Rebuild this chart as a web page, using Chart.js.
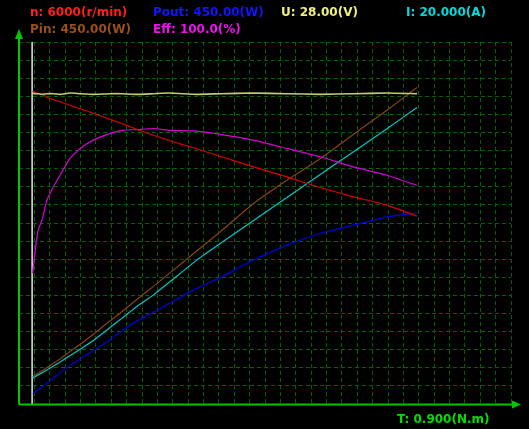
<!DOCTYPE html>
<html>
<head>
<meta charset="utf-8">
<script src="https://cdn.jsdelivr.net/npm/chart.js@4.4.1/dist/chart.umd.min.js"></script>
<style>
  html, body { margin: 0; padding: 0; background: #000; }
  #wrap { width: 529px; height: 429px; }
</style>
</head>
<body>
<div id="wrap"><canvas id="motorCurves" width="529" height="429"></canvas></div>
<script>
// torque T (N.m) of every sample
const torque = [0.025, 0.029, 0.035, 0.042, 0.051, 0.063, 0.075, 0.093, 0.112, 0.136, 0.166, 0.188,
                0.215, 0.246, 0.276, 0.325, 0.368, 0.429, 0.490, 0.551, 0.612, 0.673, 0.728];
// speed n (r/min)
const speed = [5184, 5167, 5147, 5134, 5084, 5043, 5010, 4952, 4894, 4819, 4720, 4649,
               4554, 4455, 4364, 4231, 4107, 3930, 3764, 3589, 3433, 3296, 3113];
// output power Pout (W)
const powerOut = [12.4, 14.7, 17.9, 21.1, 25.8, 32.3, 39.0, 47.8, 55.8, 66.4, 79.7, 90.7,
                  102.7, 114.0, 125.4, 143.7, 157.1, 178.9, 197.5, 212.0, 222.3, 232.6, 237.6];
// voltage U (V)
const voltage = [24.05, 24.0, 24.0, 23.95, 24.0, 24.0, 23.95, 24.05, 24.0, 23.95, 24.0, 24.0,
                 23.95, 24.0, 24.05, 23.95, 24.0, 24.05, 24.0, 23.95, 24.0, 24.05, 24.0];
// current I (A)
const current = [1.42, 1.50, 1.61, 1.72, 1.88, 2.10, 2.32, 2.67, 3.03, 3.51, 4.21, 4.73,
                 5.37, 6.03, 6.75, 7.95, 8.87, 10.14, 11.41, 12.68, 13.94, 15.21, 16.38];
// input power Pin (W)
const powerIn = [33.9, 35.8, 38.5, 41.2, 45.3, 50.7, 56.1, 65.1, 74.3, 86.7, 103.1, 114.6,
                 129.7, 146.2, 163.0, 190.2, 214.0, 249.3, 278.2, 304.9, 335.4, 365.2, 393.4];
// efficiency Eff (%)
const efficiency = [36.1, 41.6, 48.0, 50.8, 56.3, 60.0, 63.2, 67.8, 70.6, 72.9, 74.7, 75.6,
                    75.8, 76.1, 75.6, 75.4, 74.5, 72.9, 70.6, 68.3, 65.5, 63.2, 60.4];

// full scale of each trace, as printed in the header
const fullScale = { n: 6000, Pout: 450, U: 28, I: 20, Pin: 450, Eff: 100, T: 0.9 };
const headerLabels = [
  { text: 'n: 6000(r/min)',  color: '#ff1e1e', x: 30,  row: 0 },
  { text: 'Pout: 450.00(W)', color: '#1414ff', x: 153, row: 0 },
  { text: 'U: 28.00(V)',     color: '#f0f080', x: 281, row: 0 },
  { text: 'I: 20.000(A)',    color: '#00dcdc', x: 406, row: 0 },
  { text: 'Pin: 450.00(W)',  color: '#9a5018', x: 30,  row: 1 },
  { text: 'Eff: 100.0(%)',   color: '#f010f0', x: 153, row: 1 }
];
const axisLabel = 'T: 0.900(N.m)';
// the white cursor line sits on the first measured torque
const cursorT = 0.024;

const xDivisions = 32;
const yDivisions = 20;
const axisGreen = '#00c800';
const gridGreen = '#006400';

function series(values) {
  let pts = [];
  for (let i = 0; i < torque.length; i++) {
    pts.push({ x: torque[i], y: values[i] });
  }
  return pts;
}

function line(label, values, color, axis, width) {
  return {
    label: label,
    data: series(values),
    yAxisID: axis,
    borderColor: color,
    borderWidth: width || 1.2,
    pointRadius: 0,
    tension: 0.15,
    fill: false
  };
}

const frame = {
  id: 'frame',
  beforeDatasetsDraw(chart) {
    let ctx = chart.ctx;
    let area = chart.chartArea;
    let cx = chart.scales.x.getPixelForValue(cursorT);
    ctx.save();
    ctx.strokeStyle = '#e8e8e8';
    ctx.lineWidth = 1.5;
    ctx.beginPath();
    ctx.moveTo(cx, area.top);
    ctx.lineTo(cx, area.bottom);
    ctx.stroke();
    ctx.restore();
  },
  afterDraw(chart) {
    let ctx = chart.ctx;
    let area = chart.chartArea;
    ctx.save();
    // axes with arrow heads
    ctx.strokeStyle = axisGreen;
    ctx.fillStyle = axisGreen;
    ctx.lineWidth = 2;
    ctx.beginPath();
    ctx.moveTo(area.left, area.bottom + 0.5);
    ctx.lineTo(area.left, 37);
    ctx.moveTo(area.left, area.bottom + 0.5);
    ctx.lineTo(area.right + 3, area.bottom + 0.5);
    ctx.stroke();
    ctx.beginPath();
    ctx.moveTo(area.left, 29);
    ctx.lineTo(area.left - 4, 39);
    ctx.lineTo(area.left + 4, 39);
    ctx.closePath();
    ctx.fill();
    ctx.beginPath();
    ctx.moveTo(area.right + 10, area.bottom + 0.5);
    ctx.lineTo(area.right + 1, area.bottom - 3.5);
    ctx.lineTo(area.right + 1, area.bottom + 4.5);
    ctx.closePath();
    ctx.fill();

    // header and axis texts
    ctx.font = "bold 12px 'DejaVu Sans'";
    ctx.textBaseline = 'alphabetic';
    ctx.textAlign = 'left';
    headerLabels.forEach(h => {
      ctx.fillStyle = h.color;
      ctx.fillText(h.text, h.x, h.row === 0 ? 16 : 33);
    });
    ctx.fillStyle = '#00e000';
    ctx.fillText(axisLabel, 397, 423);
    ctx.restore();
  }
};

function hiddenAxis(max) {
  return { type: 'linear', display: false, min: 0, max: max };
}

let ctx = document.getElementById('motorCurves');
let chart = new Chart(ctx, {
  type: 'line',
  data: {
    datasets: [
      line('U', voltage, '#c8c878', 'yU', 1.6),
      line('n', speed, '#e00000', 'yN'),
      line('Eff', efficiency, '#d800d8', 'yE'),
      line('Pin', powerIn, '#8a4510', 'yP'),
      line('I', current, '#00c8c8', 'yI'),
      line('Pout', powerOut, '#0000e0', 'yP')
    ]
  },
  options: {
    responsive: false,
    animation: false,
    devicePixelRatio: 1,
    layout: { padding: { left: 19, right: 18, top: 42, bottom: 25 } },
    plugins: { legend: { display: false }, tooltip: { enabled: false } },
    scales: {
      x: {
        type: 'linear',
        min: 0,
        max: fullScale.T,
        ticks: { display: false },
        grid: { color: gridGreen, lineWidth: 1, drawTicks: false },
        border: { display: false, dash: [4, 3] },
        afterBuildTicks: s => {
          s.ticks = [];
          for (let i = 0; i <= xDivisions; i++) s.ticks.push({ value: i * fullScale.T / xDivisions });
        },
        afterFit: s => { s.height = 0; }
      },
      yN: {
        type: 'linear',
        position: 'left',
        min: 0,
        max: fullScale.n,
        ticks: { display: false },
        grid: { color: gridGreen, lineWidth: 1, drawTicks: false },
        border: { display: false, dash: [4, 3] },
        afterBuildTicks: s => {
          s.ticks = [];
          for (let i = 0; i <= yDivisions; i++) s.ticks.push({ value: i * fullScale.n / yDivisions });
        },
        afterFit: s => { s.width = 0; }
      },
      yP: hiddenAxis(fullScale.Pout),
      yU: hiddenAxis(fullScale.U),
      yI: hiddenAxis(fullScale.I),
      yE: hiddenAxis(fullScale.Eff)
    }
  },
  plugins: [frame]
});
</script>
</body>
</html>
